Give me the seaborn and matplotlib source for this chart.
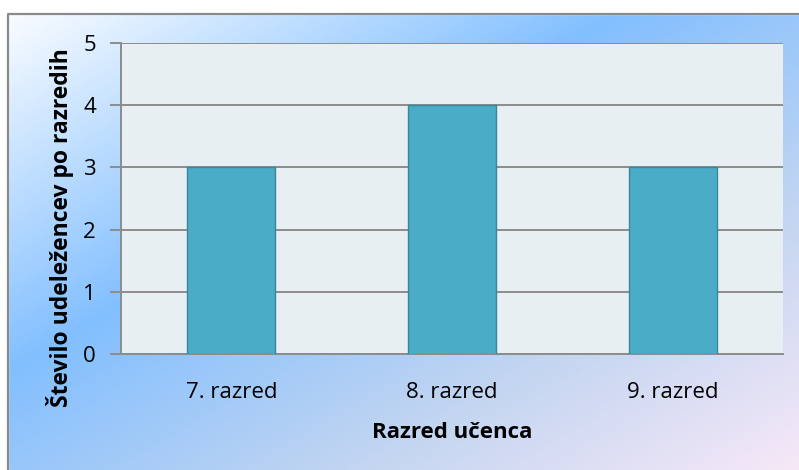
import numpy as np
import pandas as pd
import matplotlib
matplotlib.use("Agg")
import matplotlib.pyplot as plt
from matplotlib.colors import LinearSegmentedColormap
from matplotlib.patches import Rectangle
import seaborn as sns

categories = ["7. razred", "8. razred", "9. razred"]
values = [3, 4, 3]
y_ticks = [0, 1, 2, 3, 4, 5]
x_label = "Razred učenca"
y_label = "Število udeležencev po razredih"

sns.set_theme(style="white")
plt.rcParams['font.family'] = ['Open Sans', 'DejaVu Sans']

W, H = 799, 470
fig = plt.figure(figsize=(W / 100, H / 100), dpi=100)

# gradient background
bg = fig.add_axes([0, 0, 1, 1], zorder=-5)
xx, yy = np.meshgrid(np.linspace(0, 1, 400), np.linspace(0, 1, 240))
t = (xx + yy) / 2
cmap = LinearSegmentedColormap.from_list(
    "bg", [(0, "#ffffff"), (0.40, "#82bfff"), (0.72, "#c2d5f1"), (1.0, "#f6e8f7")])
bg.imshow(t, cmap=cmap, aspect="auto", extent=[0, 1, 1, 0], vmin=0, vmax=1)
bg.set_xlim(0, 1)
bg.set_ylim(1, 0)
bg.axis("off")
bg.add_patch(Rectangle((0, 0), 1, 14 / H, color="white", zorder=2))
bg.add_patch(Rectangle((0, 0), 8 / W, 1, color="white", zorder=2))
bg.plot([8 / W, 8 / W, 1], [1, 14 / H, 14 / H], color="#8a8a8a", lw=1.6, zorder=3)

ax = fig.add_axes([121 / W, 1 - 354 / H, (783 - 121) / W, (354 - 43) / H])
df = pd.DataFrame({"cat": categories, "val": values})
sns.barplot(data=df, x="cat", y="val", ax=ax, color="#4aacc6", width=0.4,
            edgecolor="#3a8799", linewidth=1.0, saturation=1, zorder=3)
ax.set_facecolor("#e8eff3")
ax.set_ylim(0, 5)
ax.set_xlim(-0.5, 2.5)
ax.set_yticks(y_ticks)
ax.yaxis.grid(True, color="#8c8c8c", lw=1.4, zorder=0)
ax.set_axisbelow(True)
for s in ["top", "right"]:
    ax.spines[s].set_visible(False)
for s in ["left", "bottom"]:
    ax.spines[s].set_color("#8c8c8c")
    ax.spines[s].set_linewidth(1.4)
ax.tick_params(axis="y", which="major", length=8, width=1.4, color="#8c8c8c",
               labelsize=16, pad=10, left=True, labelcolor="black")
ax.tick_params(axis="x", length=0, labelsize=16, pad=20, labelcolor="black")
ax.set_xlabel(x_label, fontsize=16, fontweight="bold", labelpad=14, color="black")
ax.set_ylabel(y_label, fontsize=16.5, fontweight="bold", color="black")
ax.yaxis.set_label_coords(-0.071, 0.405)

fig.savefig("out.png", dpi=100)
